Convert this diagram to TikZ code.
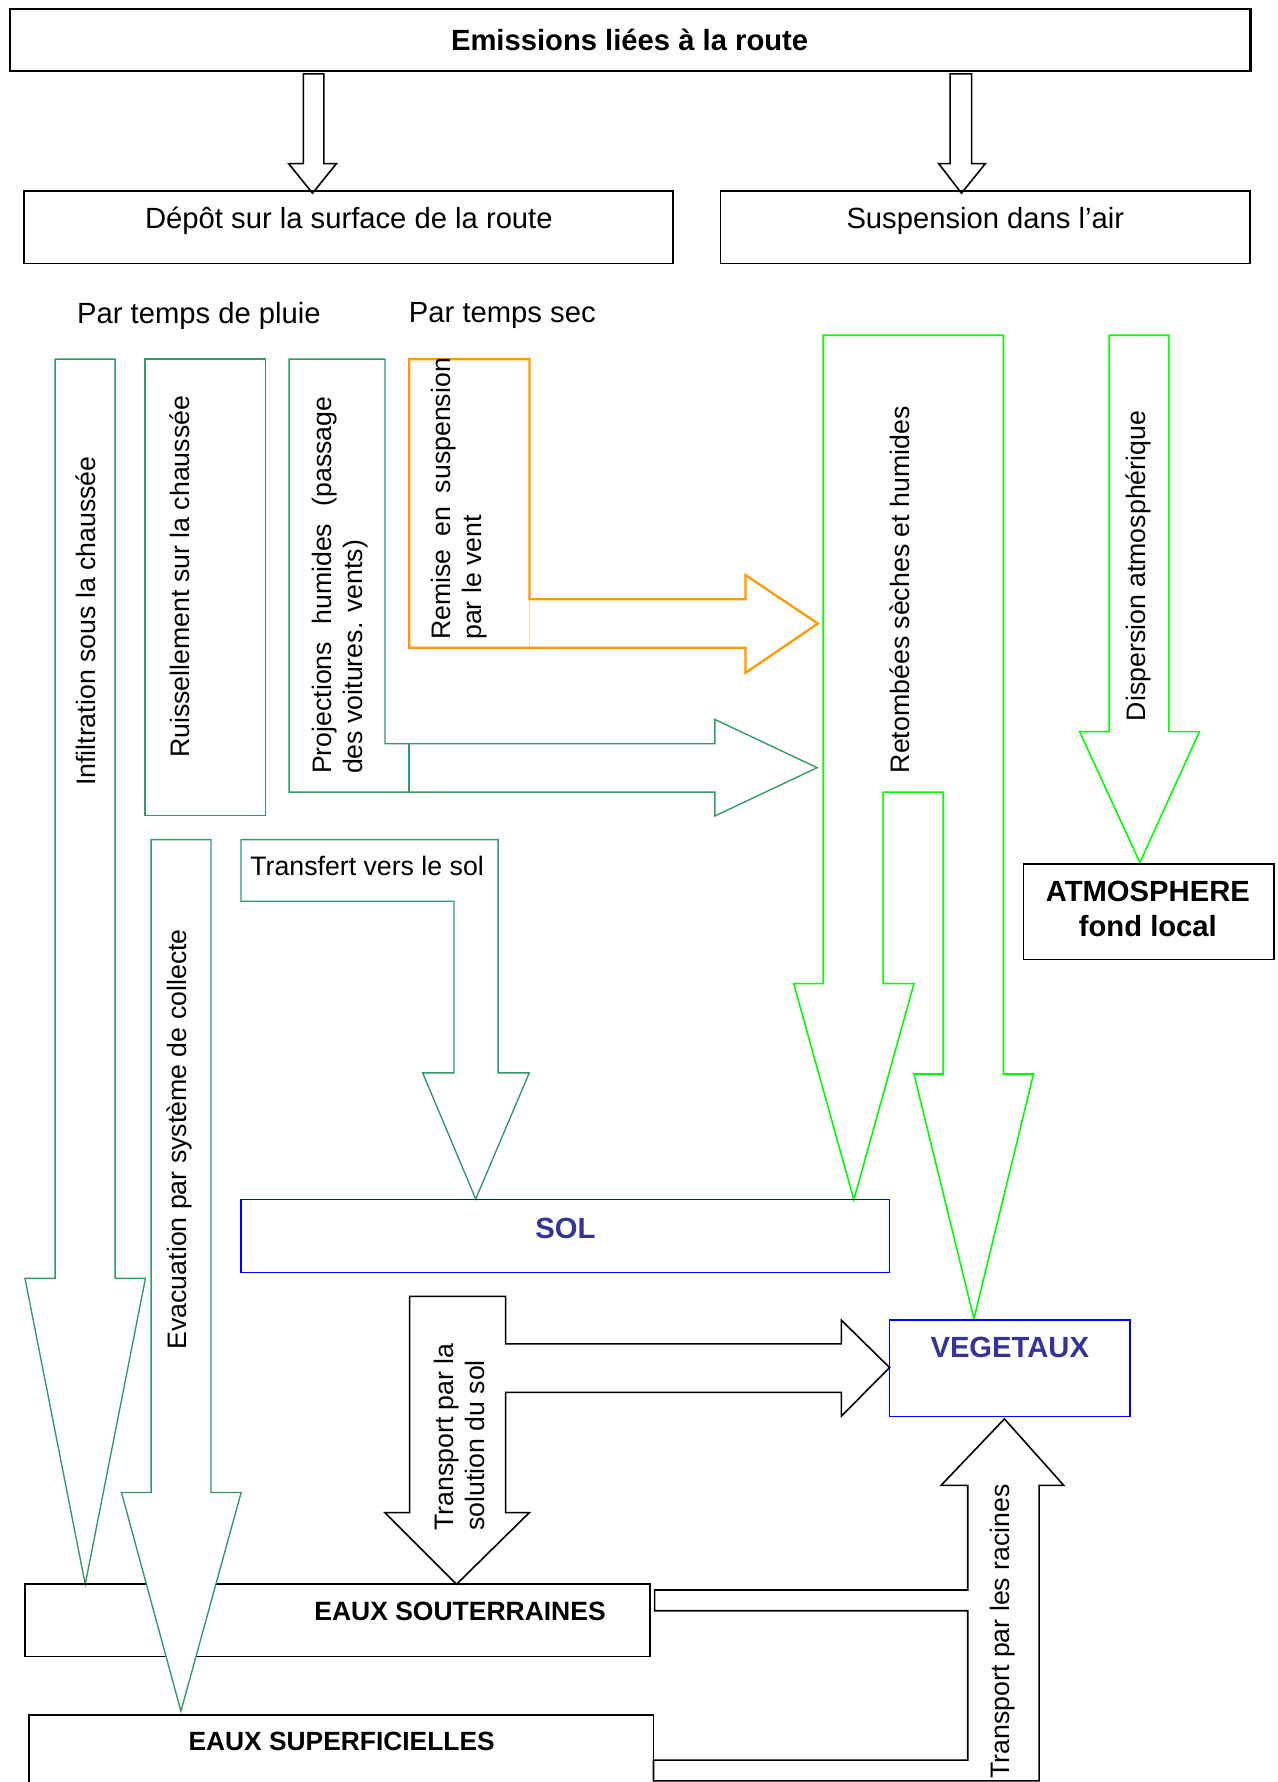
\documentclass[tikz,border=0pt]{standalone}
\usepackage{fontspec}
\setmainfont{Liberation Sans}
\definecolor{vertfonce}{RGB}{51,153,102}
\definecolor{vertvif}{RGB}{0,255,0}
\definecolor{orangevif}{RGB}{255,153,0}
\definecolor{bleuvif}{RGB}{0,0,255}
\definecolor{bleutexte}{RGB}{51,51,153}
\newcommand\grandf{\fontsize{12.85}{15.3}\selectfont}
\newcommand\petitf{\fontsize{11.75}{13.6}\selectfont}
\begin{document}
\begin{tikzpicture}[x=.5pt,y=-.5pt,line join=miter,font=\grandf,
  cadre/.style={draw=black,line width=.7pt},
  cadrebleu/.style={draw=bleuvif,line width=.7pt},
  fvert/.style={draw=vertfonce,fill=white,line width=.6pt},
  fvif/.style={draw=vertvif,fill=white,line width=.7pt},
  forange/.style={draw=orangevif,fill=white,line width=1pt},
  fnoire/.style={draw=black,fill=white,line width=.7pt},
  vtexte/.style={rotate=90,font=\petitf,inner sep=0pt},
  gras/.style={font=\grandf\bfseries}]
\useasboundingbox (0,0) rectangle (1124,1568);
\draw[cadre,line width=1.1pt] (8.6,7.9) rectangle (1100.4,62.5);
\node[gras] (emis) at (554,35) {Emissions liées à la route};
\draw[fnoire] (267,65)--(285,65)--(285,144)--(296,144)--(275,170)--(254,144)--(267,144)--cycle;
\draw[fnoire] (836,65)--(855,65)--(855,144)--(867,144)--(846,170)--(826,144)--(836,144)--cycle;
\draw[cadre] (21,168) rectangle (592,232);
\node (depot) at (307,194) {Dépôt sur la surface de la route};
\draw[cadre] (634,168) rectangle (1100,232);
\node (susp) at (867,194) {Suspension dans l’air};
\node (pluie) at (175,278) {Par temps de pluie};
\node (sec) at (442,278) {Par temps sec};

\draw[fvert] (48.5,316)--(101.3,316)--(101.3,1124.8)--(128,1124.8)--(75,1394)--(22,1124.8)--(48.5,1124.8)--cycle;
\node[vtexte] (infil) at (75.5,546.5) {Infiltration sous la chaussée};
\draw[fvert] (127.5,316) rectangle (233.5,717.7);
\node[vtexte] (ruiss) at (158,507.5) {Ruissellement sur la chaussée};
\draw[fvert] (254.4,316)--(338.8,316)--(338.8,654.4)--(629,654.4)--(629,633)--(719,675.5)--(629,718)--(629,697)--(254.4,697)--cycle;
\draw[vertfonce,line width=.6pt] (360,654.4)--(360,697);
\node[vtexte,text width=166pt,align=justify] (proj) at (299,515) {Projections humides (passage des voitures. vents)};
\draw[forange] (360,316)--(466,316)--(466,527.3)--(656,527.3)--(656,506)--(719.7,548.7)--(656,592)--(656,570)--(360,570)--cycle;
\draw[orangevif!35,line width=.6pt] (466,528)--(466,569);
\node[vtexte,text width=124pt,align=justify] (remise) at (404.3,439) {Remise en suspension par le vent};

\draw[fvif] (724.4,295)--(883,295)--(883,945)--(909.4,945)--(857,1160.4)--(804.2,945)--(830,945)--(830,697)--(777,697)--(777,865.5)--(804.2,865.5)--(751.3,1055.7)--(698.4,865.5)--(724.4,865.5)--cycle;
\node[vtexte] (retomb) at (792,519) {Retombées sèches et humides};
\draw[fvif] (976,295)--(1028.5,295)--(1028.5,643.8)--(1055.4,643.8)--(1003,759)--(950,643.8)--(976,643.8)--cycle;
\node[vtexte] (disp) at (1001.4,498) {Dispersion atmosphérique};
\draw[cadre] (900.6,760) rectangle (1121,844.4);
\node[gras,align=center] (atmo) at (1010,800) {ATMOSPHERE\\fond local};

\draw[fvert] (212,738.8)--(438.3,738.8)--(438.3,944)--(465.7,944)--(418.6,1055)--(371.9,944)--(399.5,944)--(399.5,793)--(212,793)--cycle;
\node[font=\petitf] (transf) at (323,762) {Transfert vers le sol};
\draw[cadrebleu] (212,1055.5) rectangle (782.8,1119.5);
\node[gras,text=bleutexte] (sol) at (497.6,1081) {SOL};
\draw[cadrebleu] (782.8,1161.6) rectangle (994.2,1246.2);
\node[gras,text=bleutexte] (veg) at (888.5,1186) {VEGETAUX};

\draw[fnoire] (360.4,1140.7)--(444.9,1140.7)--(444.9,1182.5)--(740.3,1182.5)--(740.3,1161.6)--(782.8,1203.4)--(740.3,1246)--(740.3,1225.2)--(444.9,1225.2)--(444.9,1331)--(465.7,1331)--(401.7,1394)--(338.7,1331)--(360.4,1331)--cycle;
\node[vtexte,align=left] (solu) at (404,1264.5) {Transport par la\\solution du sol};

\draw[cadre] (22,1394) rectangle (571.7,1457.7);
\node[font=\fontsize{11.65}{14}\selectfont\bfseries] (souter) at (404.8,1417.6) {EAUX SOUTERRAINES};
\draw[fvert] (133,738.8)--(185.6,738.8)--(185.6,1313.3)--(212.2,1313.3)--(159.2,1505.7)--(106.9,1313.3)--(133,1313.3)--cycle;
\node[vtexte] (evac) at (158,1002.5) {Evacuation par système de collecte};
\draw[cadre] (25.5,1509) rectangle (575,1600);
\node[font=\fontsize{11.6}{14}\selectfont\bfseries] (superf) at (300.6,1532) {EAUX SUPERFICIELLES};

\draw[fnoire] (576,1399)--(851.5,1399)--(851.5,1307)--(828,1307)--(883.8,1248.5)--(936,1307)--(914.3,1307)--(914.3,1567)--(575,1567)--(575,1548.7)--(851.5,1548.7)--(851.5,1417.3)--(576,1417.3)--cycle;
\node[vtexte] (racines) at (881.8,1435.5) {Transport par les racines};
\end{tikzpicture}
\end{document}
